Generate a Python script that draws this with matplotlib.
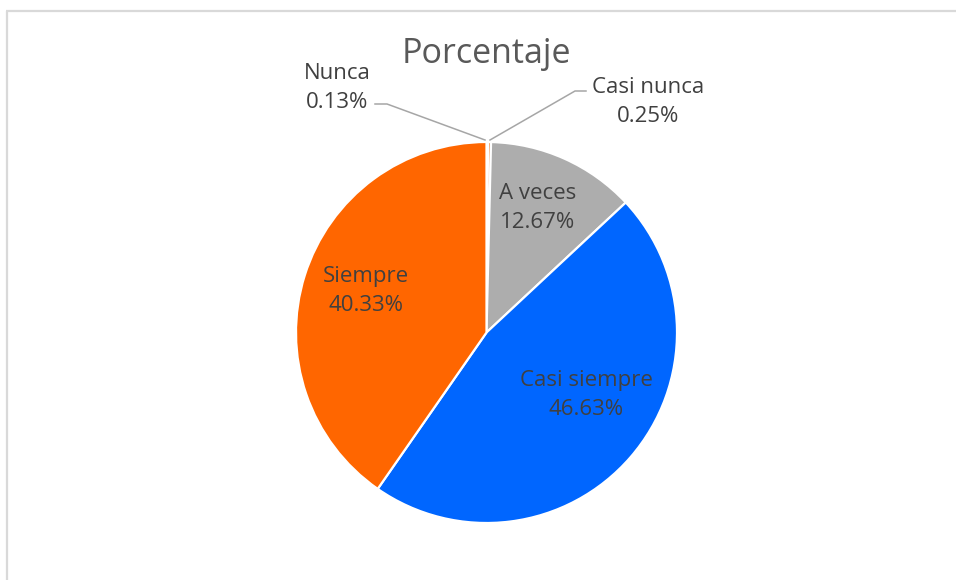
import matplotlib
matplotlib.use("Agg")
import matplotlib.pyplot as plt

# datos del gráfico
categorias = ["Nunca", "Casi nunca", "A veces", "Casi siempre", "Siempre"]
porcentajes = [0.13, 0.25, 12.67, 46.63, 40.33]
colores = ["#4472C4", "#ED7D31", "#ADADAD", "#0066FF", "#FF6600"]
titulo = "Porcentaje"

W, H = 956, 580
fig = plt.figure(figsize=(W / 100, H / 100), dpi=100)
ax = fig.add_axes([0, 0, 1, 1])

def Y(y):  # coordenada de pantalla -> datos
    return H - y

fuente = "Open Sans"
gris_txt = "#404040"

ax.pie(porcentajes, colors=colores, startangle=90, counterclock=False,
       center=(486.5, Y(332.5)), radius=190.5,
       wedgeprops=dict(edgecolor="white", linewidth=1.6))
ax.set_xlim(0, W)
ax.set_ylim(0, H)
ax.set_aspect("equal")
ax.axis("off")

# borde del área del gráfico (sólo se ven izquierda y arriba)
ax.plot([7, 7], [Y(10.8), Y(H + 5)], color="#D9D9D9", lw=1.6, solid_capstyle="butt")
ax.plot([6.2, W + 5], [Y(10.8), Y(10.8)], color="#D9D9D9", lw=1.6, solid_capstyle="butt")

ax.text(486, Y(54), titulo, ha="center", va="center", fontsize=24.5,
        color="#595959", family=fuente)

# etiquetas de datos
etiquetas = {
    "Nunca": (337, 88),
    "Casi nunca": (648, 102),
    "A veces": (538, 208),
    "Casi siempre": (586, 395),
    "Siempre": (366, 291),
}
for cat, p in zip(categorias, porcentajes):
    x, y = etiquetas[cat]
    ax.text(x, Y(y), f"{cat}\n{p:.2f}%", ha="center", va="center",
            fontsize=16, color=gris_txt, family=fuente, linespacing=1.55)

# líneas guía
ax.plot([375, 387, 485], [Y(104), Y(104), Y(140)], color="#A6A6A6", lw=1.1)
ax.plot([490, 575, 586], [Y(140), Y(91), Y(91)], color="#A6A6A6", lw=1.1)

fig.savefig("out.png", dpi=100, facecolor="white")
